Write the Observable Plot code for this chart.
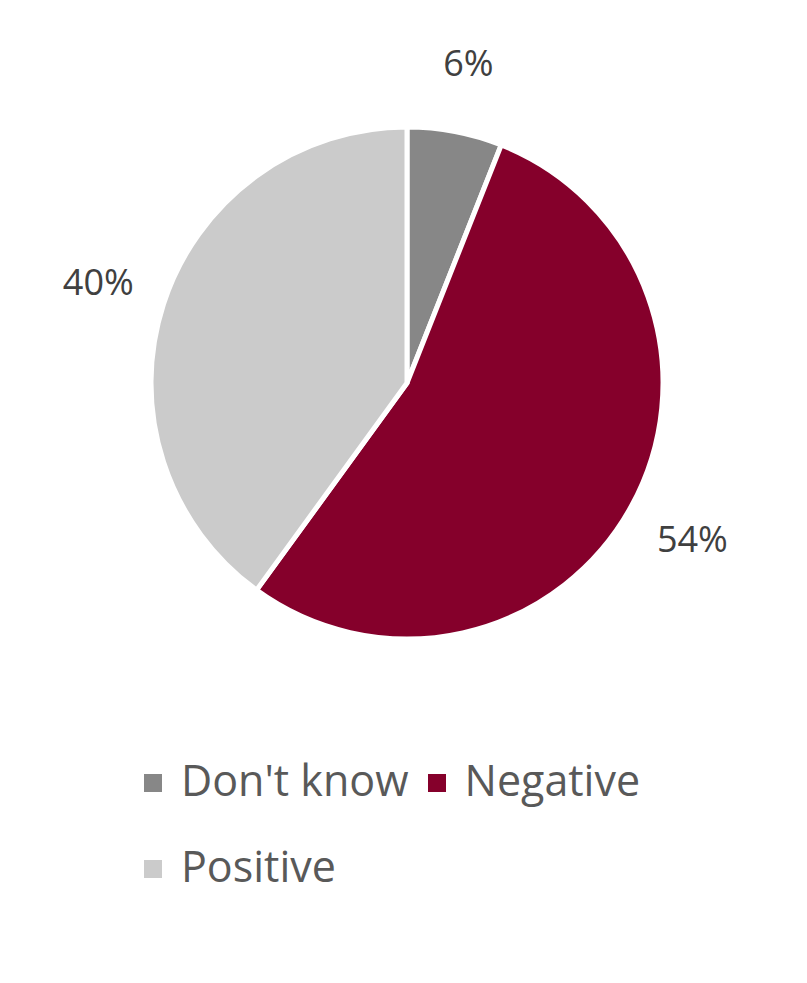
<!DOCTYPE html>
<html><head><meta charset="utf-8">
<script src="https://cdn.jsdelivr.net/npm/d3@7"></script>
<script src="https://cdn.jsdelivr.net/npm/@observablehq/plot@0.6"></script>
<style>
body{margin:0;background:#fff;font-family:"Open Sans",sans-serif;}
#wrap{position:relative;width:807px;height:983px;}
#legend{position:absolute;left:144px;top:737px;width:530px;display:flex;flex-wrap:wrap;font-size:43px;line-height:86px;color:#595959;}
.item{display:flex;align-items:center;margin-right:19px;white-space:nowrap;}
.sw{width:18px;height:18px;margin-right:19px;margin-top:6px;}
</style></head><body><div id="wrap"><div id="chart"></div><div id="legend"></div></div>
<script>
const categories = ["Don't know", "Negative", "Positive"];
const shares = [6, 54, 40];
const labels = ["6%", "54%", "40%"];
const colors = ["#878787", "#85002b", "#cbcbcb"];

const W = 807, H = 700, CX = 407, CY = 383, R = 256, LABEL_K = 1.27;

const data = categories.map((c, i) => ({category: c, value: shares[i], label: labels[i], color: colors[i]}));
const arcs = d3.pie().sort(null).value(d => d.value)(data);
const labelData = arcs.map(a => {
  const m = (a.startAngle + a.endAngle) / 2;
  return {label: a.data.label, x: LABEL_K * Math.sin(m), y: LABEL_K * Math.cos(m)};
});

const pieMark = (index, scales) => {
  const cx = scales.x(0), cy = scales.y(0), r = scales.x(1) - scales.x(0);
  const g = d3.create("svg:g").attr("transform", `translate(${cx},${cy})`);
  const arcGen = d3.arc().innerRadius(0).outerRadius(r);
  g.selectAll("path").data(arcs).join("path")
    .attr("d", arcGen)
    .attr("fill", d => d.data.color)
    .attr("stroke", "#fff")
    .attr("stroke-width", 5)
    .attr("stroke-linejoin", "miter");
  return g.node();
};

const chart = Plot.plot({
  width: W, height: H,
  margin: 0,
  x: {domain: [-CX / R, (W - CX) / R], axis: null},
  y: {domain: [(CY - H) / R, CY / R], axis: null},
  style: {fontFamily: "'Open Sans', sans-serif", background: "#fff"},
  marks: [
    pieMark,
    Plot.text(labelData, {x: "x", y: "y", text: "label", fontSize: 36, fill: "#404040", textAnchor: "middle", lineAnchor: "middle"})
  ]
});
document.getElementById("chart").appendChild(chart);

const legend = d3.select("#legend");
const items = legend.selectAll(".item").data(data).join("div").attr("class", "item");
items.append("div").attr("class", "sw").style("background", d => d.color);
items.append("span").text(d => d.category);
</script>
</body></html>
